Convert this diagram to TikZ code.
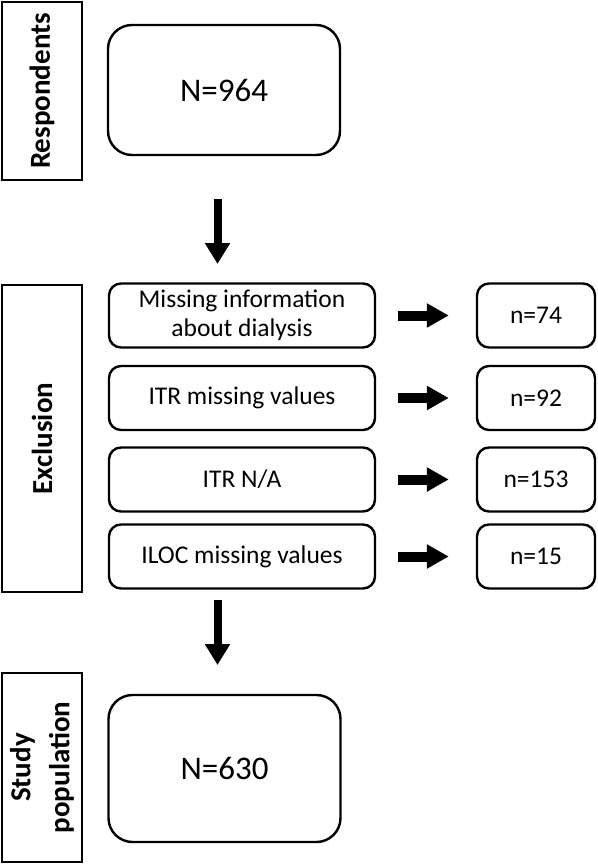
\documentclass[tikz,border=0pt]{standalone}
\usepackage{fontspec}
\setmainfont{Carlito}
\usetikzlibrary{arrows.meta}

\begin{document}
\begin{tikzpicture}[
  x=1pt, y=-1pt,
  side/.style={draw, line width=2.4pt, rotate=90, align=center, inner sep=0pt,
    minimum height=80pt, font=\fontsize{29}{39}\selectfont\bfseries},
  bigbox/.style={draw, line width=2.4pt, rounded corners=24pt, minimum width=232pt,
    inner sep=0pt, align=center, font=\fontsize{33}{38}\selectfont},
  rowbox/.style={draw, line width=2.4pt, rounded corners=12pt, minimum width=266pt,
    minimum height=64pt, inner sep=0pt, align=center, font=\fontsize{25.5}{29}\selectfont},
  cntbox/.style={rowbox, minimum width=118pt},
  downarr/.style={line width=8pt, -{Triangle[width=24pt, length=21pt]}},
  rightarr/.style={line width=10pt, -{Triangle[width=23pt, length=22pt]},
    shorten <=22pt, shorten >=27pt}
]
\useasboundingbox (0,0) rectangle (597,864);

% stage labels
\node[side, minimum width=178pt] (lresp) at (42,91) {Respondents};
\node[side, minimum width=307pt] (lexcl) at (42,438.5) {Exclusion};
\node[side, minimum width=189pt] (lstudy) at (42,767.5) {Study\\population};

% totals
\node[bigbox, minimum height=130pt] (n964) at (224,90) {N=964};
\node[bigbox, minimum height=147pt] (n630) at (224.5,768.5) {N=630};

% exclusion reasons and counts
\foreach \i/\y/\txt/\n in {1/315.5/{Missing information\\about dialysis}/74,
                           2/398/{ITR missing values}/92,
                           3/479.5/{ITR N/A}/153,
                           4/556.5/{ILOC missing values}/15} {
  \node[rowbox] (r\i) at (242,\y) {\txt};
  \node[cntbox] (c\i) at (536,\y) {n=\n};
  \draw[rightarr] (r\i.east) -- (c\i.west);
}

% flow arrows
\coordinate (d1top) at (217.5,199);
\coordinate (d1tip) at (217.5,264);
\coordinate (d2top) at (217.5,600);
\coordinate (d2tip) at (217.5,665);
\draw[downarr] (d1top) -- (d1tip);
\draw[downarr] (d2top) -- (d2tip);
\end{tikzpicture}
\end{document}
